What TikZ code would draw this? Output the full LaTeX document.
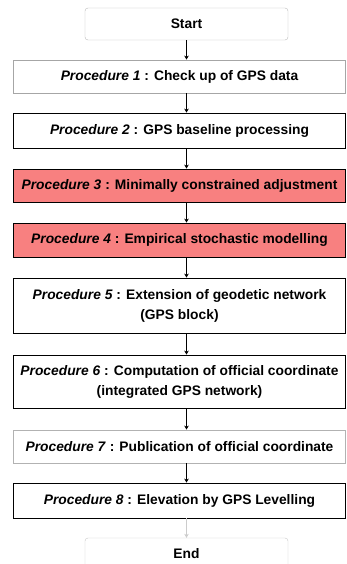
\documentclass[tikz,border=0pt]{standalone}
\usepackage{fontspec}
\setmainfont{Liberation Sans}
\usetikzlibrary{positioning, arrows.meta}

\definecolor{hotpink}{RGB}{248,128,128}

\begin{document}
\begin{tikzpicture}[x=1pt, y=-1pt,
		proc/.style={draw=black, line width=0.8pt, minimum width=332pt, inner sep=0pt,
			align=center, font=\bfseries\fontsize{13.8}{20}\selectfont},
		hot/.style={proc, fill=hotpink},
		terminal/.style={draw=gray!55, rounded corners=3pt, minimum width=203pt, minimum height=32pt,
			inner sep=0pt, font=\bfseries\fontsize{13.8}{15}\selectfont},
		flow/.style={-{Stealth[length=4pt, width=4.5pt]}, line width=0.8pt}
	]
	\useasboundingbox (0,0) rectangle (347,564);

	\node[terminal] (start) at (186.5, 24) {Start};

	\node[proc, draw=gray!70, minimum height=33pt] (p1) at (179.5, 76.5) {\textit{Procedure 1} : Check up of GPS data};
	\node[proc, minimum height=35pt] (p2) at (179.5, 130.5) {\textit{Procedure 2} : GPS baseline processing};

	%% adjustment and modelling steps
	\node[hot, minimum height=33pt] (p3) at (179.5, 185.5) {\textit{Procedure 3} : Minimally constrained adjustment};
	\node[hot, minimum height=34pt] (p4) at (179.5, 240) {\textit{Procedure 4} : Empirical stochastic modelling};

	\node[proc, minimum height=55pt] (p5) at (179.5, 305.5) {\textit{Procedure 5} : Extension of geodetic network\\(GPS block)};
	\node[proc, minimum height=53pt] (p6) at (179.5, 381.5) {\textit{Procedure 6} : Computation of official coordinate\\(integrated GPS network)};
	\node[proc, draw=gray!60, minimum height=33pt] (p7) at (179.5, 446.5) {\textit{Procedure 7} : Publication of official coordinate};
	\node[proc, minimum height=35pt] (p8) at (179.5, 500.5) {\textit{Procedure 8} : Elevation by GPS Levelling};

	\node[terminal, draw=gray!45] (end) at (186.5, 554) {End};

	\draw[flow] (start.south) -- (start.south |- p1.north);
	\foreach \a/\b in {p1/p2, p2/p3, p3/p4, p4/p5, p5/p6, p6/p7, p7/p8}
		\draw[flow] (start.south |- \a.south) -- (start.south |- \b.north);
	\draw[flow, draw=gray!40] (start.south |- p8.south) -- (end.north);
\end{tikzpicture}
\end{document}
